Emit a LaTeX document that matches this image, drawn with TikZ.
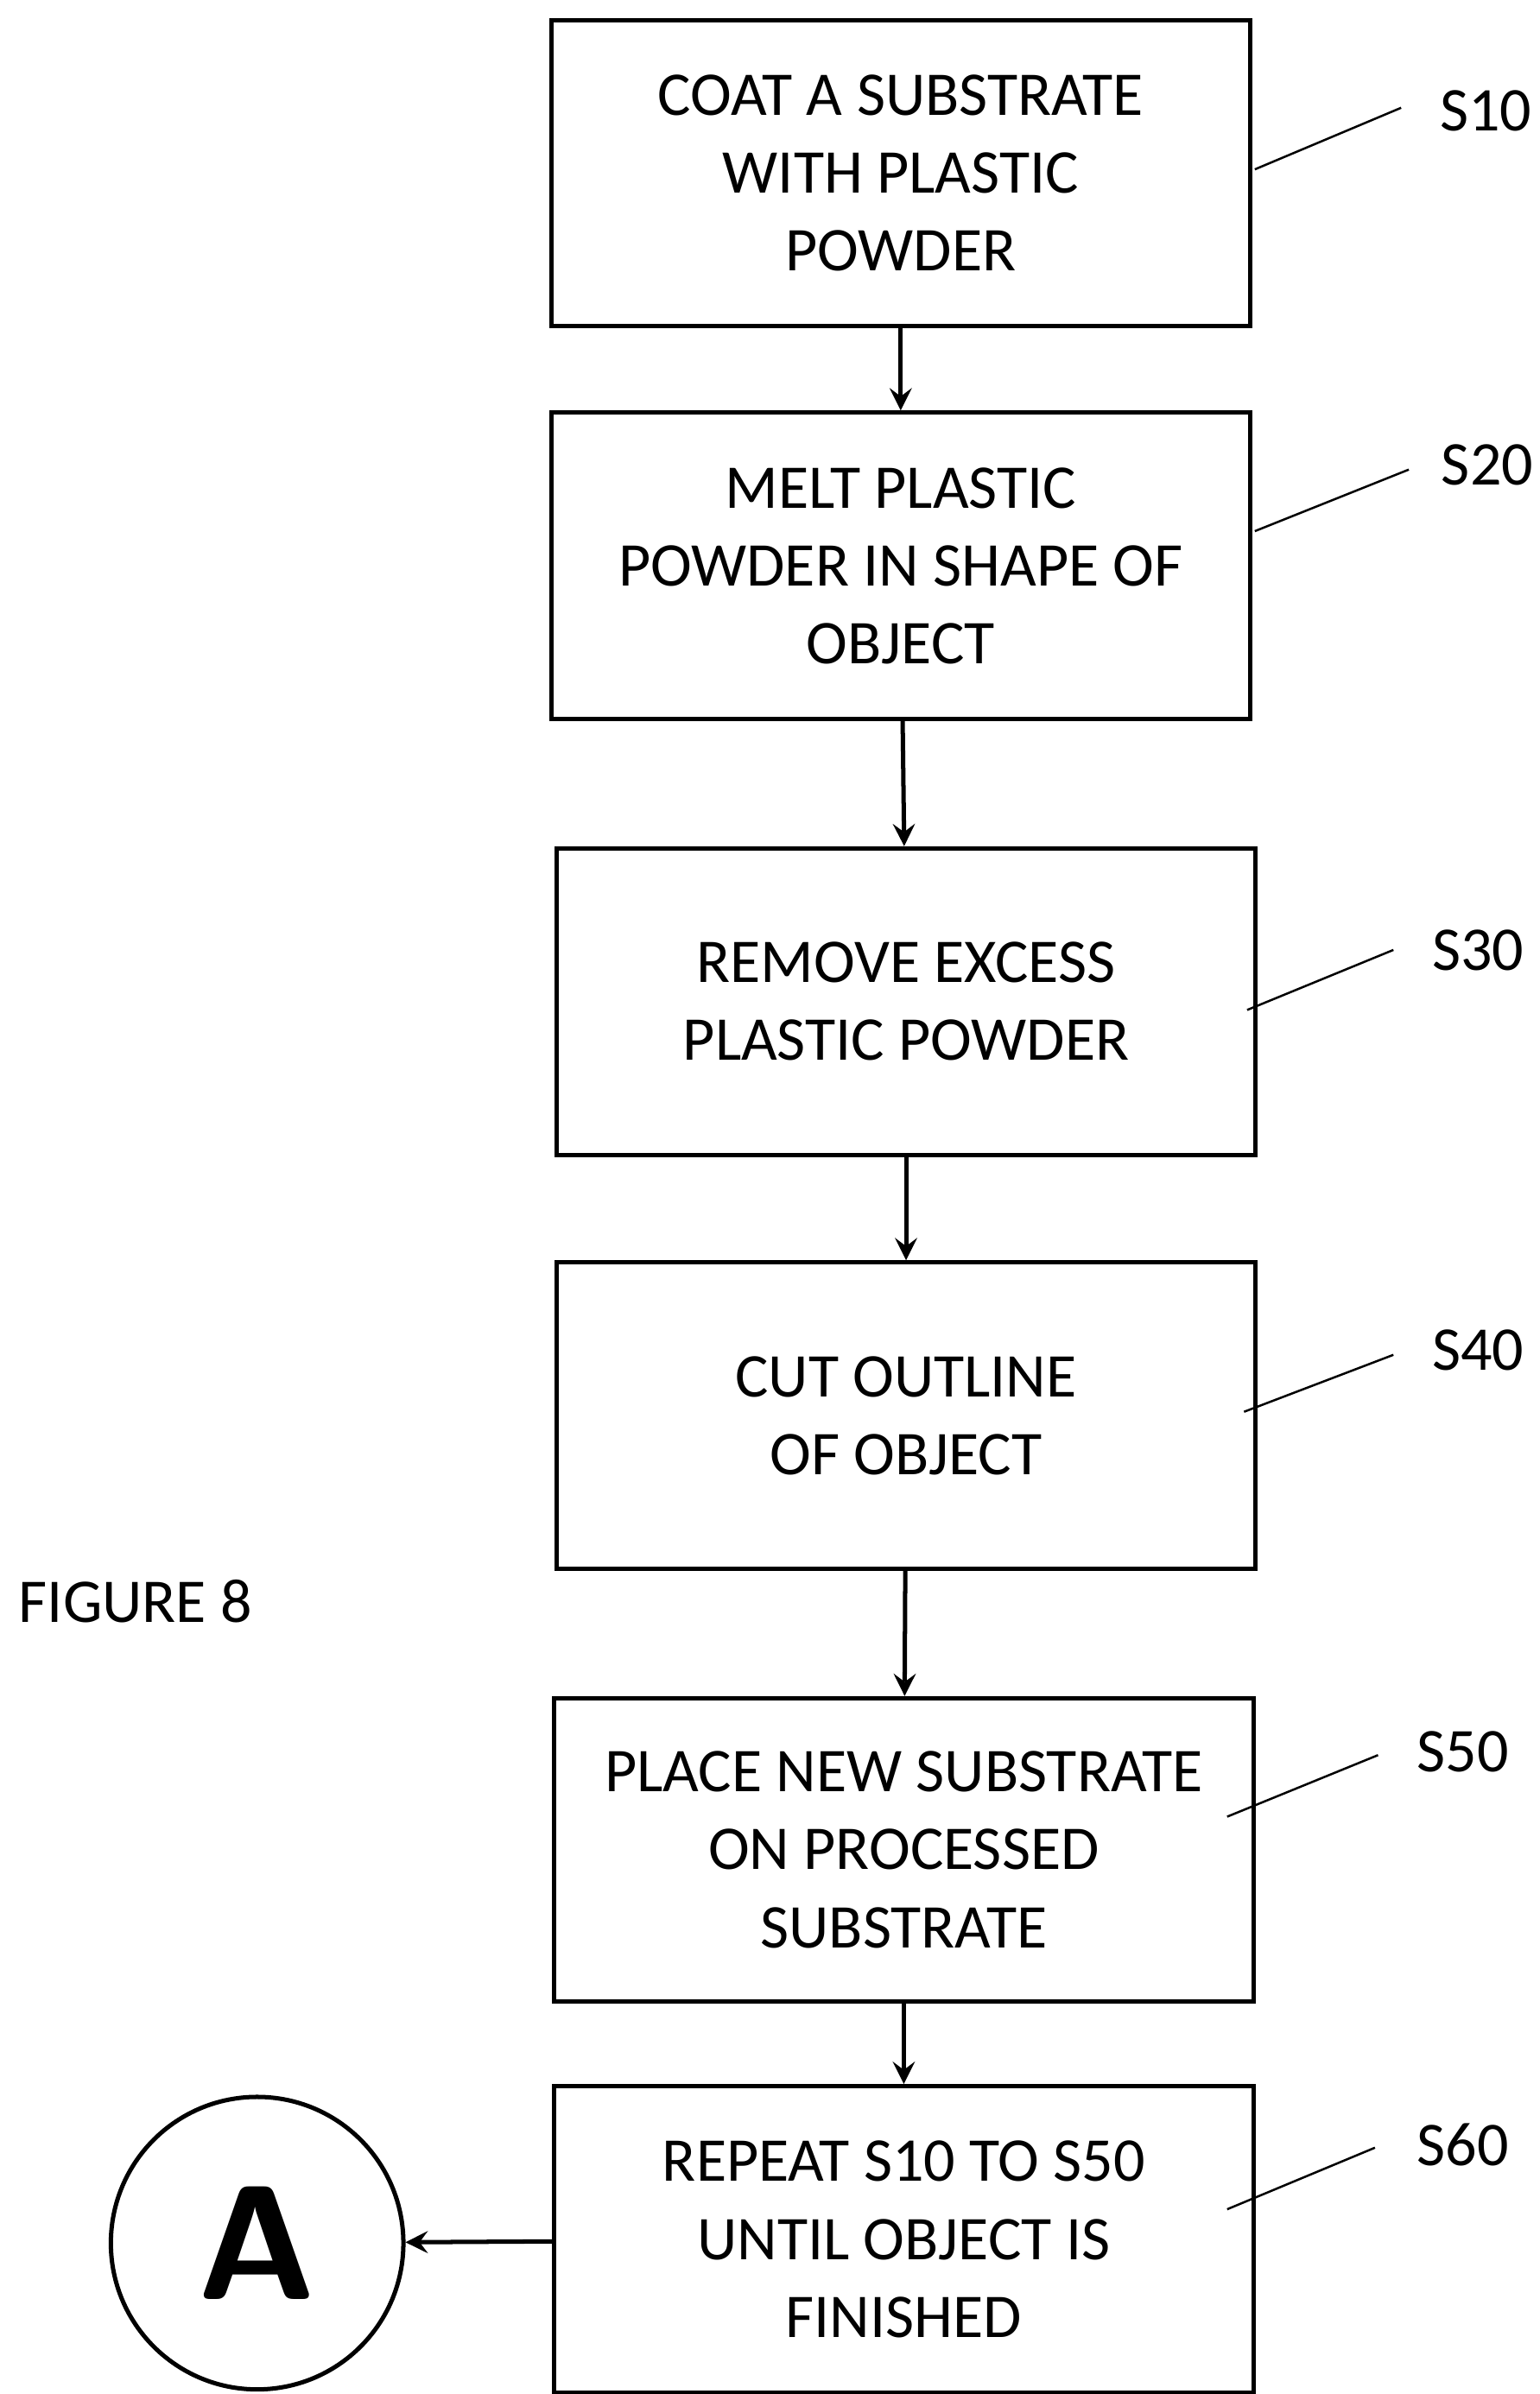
\documentclass[tikz,border=0pt]{standalone}
\usepackage{fontspec}
\setmainfont{Carlito}
\usetikzlibrary{positioning}

\tikzset{
    stepbox/.style={draw, thick, minimum width=4.54cm, minimum height=1.99cm, align=center,
        font=\fontsize{11.5}{14.4}\selectfont, inner sep=2pt},
    flow/.style={thick, ->, >=stealth},
    tag/.style={font=\fontsize{11.5}{14}\selectfont}
}

\begin{document}
\begin{tikzpicture}[x=1cm, y=1cm]
    \useasboundingbox (0,0) rectangle (10,-15.55);

    % Process steps
    \node[stepbox] (s10) at (5.85,-1.125) {COAT A SUBSTRATE\\WITH PLASTIC\\POWDER};
    \node[stepbox] (s20) at (5.85,-3.675) {MELT PLASTIC\\POWDER IN SHAPE OF\\OBJECT};
    \node[stepbox] (s30) at (5.885,-6.505) {REMOVE EXCESS\\PLASTIC POWDER};
    \node[stepbox] (s40) at (5.885,-9.195) {CUT OUTLINE\\OF OBJECT};
    \node[stepbox, minimum height=1.97cm] (s50) at (5.87,-12.015) {PLACE NEW SUBSTRATE\\ON PROCESSED\\SUBSTRATE};
    \node[stepbox] (s60) at (5.87,-14.545) {REPEAT S10 TO S50\\UNTIL OBJECT IS\\FINISHED};

    % Connector A
    \node[draw, thick, circle, minimum size=1.9cm, font=\sffamily\bfseries\fontsize{30}{30}\selectfont] (ca) at (1.67,-14.57) {A};

    % Arrows
    \draw[flow] (s10) -- (s20);
    \draw[flow] (s20) -- (s30);
    \draw[flow] (s30) -- (s40);
    \draw[flow] (s40) -- (s50);
    \draw[flow] (s50) -- (s60);
    \draw[flow] (s60) -- (ca);

    % Step labels
    \node[tag] (l10) at (9.65,-0.72) {S10};
    \node[tag] (l20) at (9.66,-3.02) {S20};
    \node[tag] (l30) at (9.6,-6.17) {S30};
    \node[tag] (l40) at (9.6,-8.77) {S40};
    \node[tag] (l50) at (9.5,-11.38) {S50};
    \node[tag] (l60) at (9.5,-13.93) {S60};
    \draw (8.15,-1.10) -- (9.10,-0.70);
    \draw (8.15,-3.45) -- (9.15,-3.05);
    \draw (8.10,-6.56) -- (9.05,-6.17);
    \draw (8.08,-9.17) -- (9.05,-8.80);
    \draw (7.97,-11.80) -- (8.95,-11.40);
    \draw (7.97,-14.35) -- (8.93,-13.95);

    \node[tag] (fig) at (0.88,-10.4) {FIGURE 8};
\end{tikzpicture}
\end{document}
